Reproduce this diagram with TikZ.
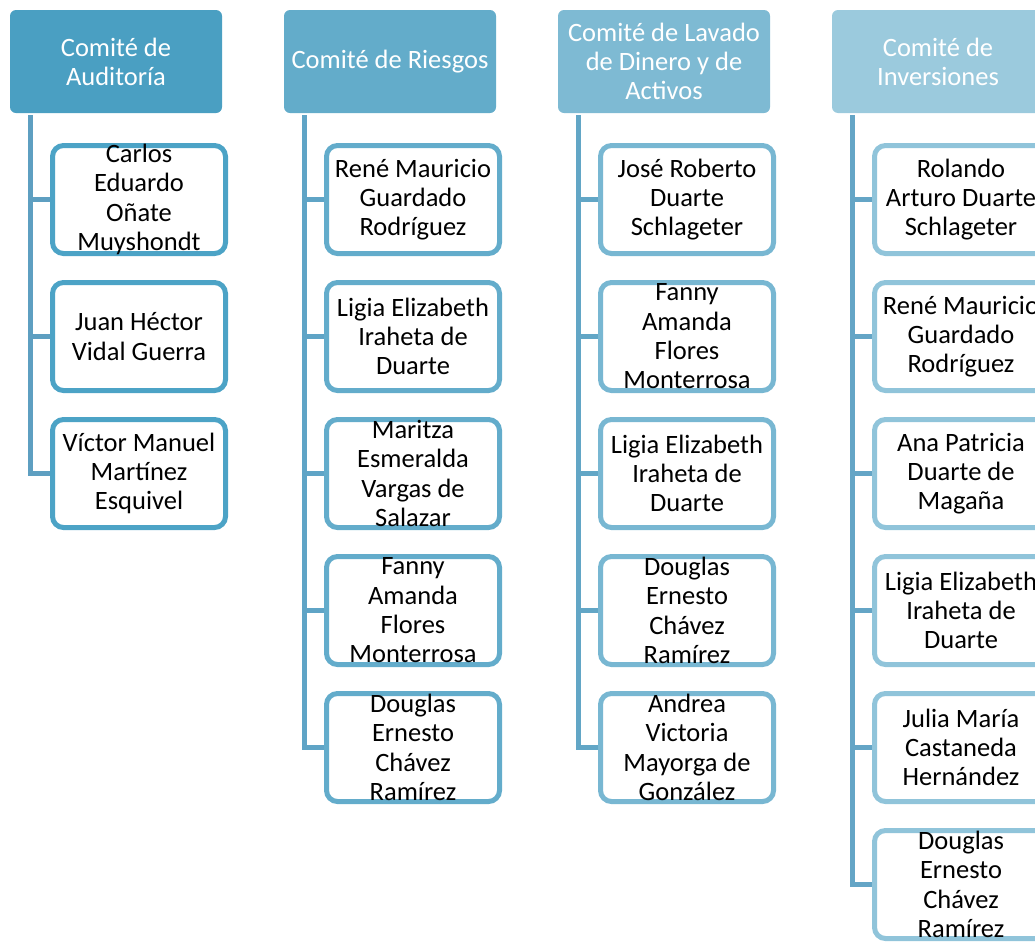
\documentclass[tikz,border=0pt]{standalone}
\usepackage{fontspec}
\setmainfont{Carlito}
\definecolor{cA}{HTML}{4A9FC2}
\definecolor{cB}{HTML}{63ACCA}
\definecolor{cC}{HTML}{7EBAD3}
\definecolor{cD}{HTML}{9BCADD}
\definecolor{bA}{HTML}{4CA3C6}
\definecolor{bB}{HTML}{63ACCB}
\definecolor{bC}{HTML}{78B7D2}
\definecolor{bD}{HTML}{90C4DA}
\definecolor{lA}{HTML}{5E9FC1}
\definecolor{lB}{HTML}{5FA4C6}
\definecolor{lC}{HTML}{62A6C6}
\definecolor{lD}{HTML}{64A5C6}
\tikzset{
  hdr/.style={rounded corners=6pt, minimum width=212pt, minimum height=103pt, inner sep=0pt, text=white, align=center, font=\fontsize{26.5}{29}\selectfont},
  pbox/.style={draw, line width=5pt, rounded corners=11pt, fill=white, minimum width=173pt, minimum height=108pt, inner sep=0pt},
  ptext/.style={align=center, inner sep=0pt, text=black, font=\fontsize{26.5}{29.3}\selectfont},
  conn/.style={line width=5pt},
}
\begin{document}
\begin{tikzpicture}[x=1pt,y=-1pt]
\useasboundingbox (0,0) rectangle (1035,943);
\clip (0,0) rectangle (1035,943);
% headers
\node[hdr, fill=cA] (h1) at (116,61.5) {Comité de\\Auditoría};
\node[hdr, fill=cB] (h2) at (390,61.5) {Comité de Riesgos};
\node[hdr, fill=cC] (h3) at (664,61.5) {Comité de Lavado\\de Dinero y de\\Activos};
\node[hdr, fill=cD] (h4) at (938,61.5) {Comité de\\Inversiones};
% column 1
\coordinate (t1) at (30,115);
\foreach \i/\t in {1/{Carlos\\Eduardo\\Oñate\\Muyshondt},2/{Juan Héctor\\Vidal Guerra},3/{Víctor Manuel\\Martínez\\Esquivel}}{
  \node[pbox, draw=bA] (a\i) at (139,{199.5+137*(\i-1)}) {};
  \node[ptext] (at\i) at (a\i) {\t};
}
\draw[conn, draw=lA] (t1) |- (a3.west);
\foreach \i in {1,2}{\draw[conn, draw=lA] (t1 |- a\i.west) -- (a\i.west);}
% column 2
\coordinate (t2) at (304,115);
\foreach \i/\t in {1/{René Mauricio\\Guardado\\Rodríguez},2/{Ligia Elizabeth\\Iraheta de\\Duarte},3/{Maritza\\Esmeralda\\Vargas de\\Salazar},4/{Fanny\\Amanda\\Flores\\Monterrosa},5/{Douglas\\Ernesto\\Chávez\\Ramírez}}{
  \node[pbox, draw=bB] (b\i) at (413,{199.5+137*(\i-1)}) {};
  \node[ptext] (bt\i) at (b\i) {\t};
}
\draw[conn, draw=lB] (t2) |- (b5.west);
\foreach \i in {1,...,4}{\draw[conn, draw=lB] (t2 |- b\i.west) -- (b\i.west);}
% column 3
\coordinate (t3) at (578,115);
\foreach \i/\t in {1/{José Roberto\\Duarte\\Schlageter},2/{Fanny\\Amanda\\Flores\\Monterrosa},3/{Ligia Elizabeth\\Iraheta de\\Duarte},4/{Douglas\\Ernesto\\Chávez\\Ramírez},5/{Andrea\\Victoria\\Mayorga de\\González}}{
  \node[pbox, draw=bC] (c\i) at (687,{199.5+137*(\i-1)}) {};
  \node[ptext] (ct\i) at (c\i) {\t};
}
\draw[conn, draw=lC] (t3) |- (c5.west);
\foreach \i in {1,...,4}{\draw[conn, draw=lC] (t3 |- c\i.west) -- (c\i.west);}
% column 4
\coordinate (t4) at (852,115);
\foreach \i/\t in {1/{Rolando\\Arturo Duarte\\Schlageter},2/{René Mauricio\\Guardado\\Rodríguez},3/{Ana Patricia\\Duarte de\\Magaña},4/{Ligia Elizabeth\\Iraheta de\\Duarte},5/{Julia María\\Castaneda\\Hernández},6/{Douglas\\Ernesto\\Chávez\\Ramírez}}{
  \node[pbox, draw=bD] (d\i) at (961,{199.5+137*(\i-1)}) {};
  \node[ptext] (dt\i) at (d\i) {\t};
}
\draw[conn, draw=lD] (t4) |- (d6.west);
\foreach \i in {1,...,5}{\draw[conn, draw=lD] (t4 |- d\i.west) -- (d\i.west);}
\end{tikzpicture}
\end{document}
